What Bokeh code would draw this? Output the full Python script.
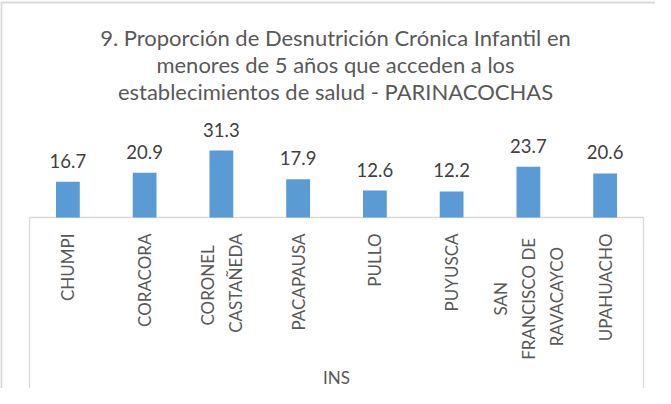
import numpy as np
from bokeh.plotting import figure
from bokeh.models import Range1d, ColumnDataSource
from bokeh.core.properties import value
from bokeh.embed import file_html
from bokeh.resources import INLINE

# ---- data ----
categories = ["CHUMPI", "CORACORA", "CORONEL \nCASTAÑEDA", "PACAPAUSA", "PULLO",
              "PUYUSCA", "SAN \nFRANCISCO DE \nRAVACAYCO", "UPAHUACHO"]
values = [16.7, 20.9, 31.3, 17.9, 12.6, 12.2, 23.7, 20.6]
value_labels = ["16.7", "20.9", "31.3", "17.9", "12.6", "12.2", "23.7", "20.6"]
group_label = "INS"
title_lines = ["9. Proporción de Desnutrición Crónica Infantil en",
               "menores de 5 años que acceden a los",
               "establecimientos de salud - PARINACOCHAS"]

W, H = 655, 388
X0_PX, XPX = 29.0, 76.75          # category axis left edge, px per category
Y0_PX, YPX = 217.0, 2.14          # baseline, px per unit

def xd(px):
    return (px - X0_PX) / XPX

def yd(px):
    return (Y0_PX - px) / YPX

FONT = value("Lato")
n = len(categories)
xs = np.arange(n) + 0.5

p = figure(width=W, height=H, output_backend="svg", toolbar_location=None,
           x_range=Range1d(xd(0), xd(W)), y_range=Range1d(yd(H), yd(0)),
           min_border=0, min_border_left=0, min_border_right=0,
           min_border_top=0, min_border_bottom=0)
p.axis.visible = False
p.grid.visible = False
p.outline_line_color = None
p.background_fill_color = "white"
p.border_fill_color = "white"

grey = "#D9D9D9"
# outer chart border (top and left)
p.segment(x0=[xd(0), xd(0.8)], y0=[yd(2), yd(2)], x1=[xd(W), xd(0.8)], y1=[yd(2), yd(H)],
          line_color=grey, line_width=2)

# category axis box
p.segment(x0=[0, 0, n], y0=[0, 0, 0], x1=[n, 0, n], y1=[0, yd(H), yd(H)],
          line_color=grey, line_width=1.3)

src = ColumnDataSource(dict(x=xs, top=values, lab=value_labels,
                            ly=np.array(values) + 21 / YPX, cat=categories))

p.vbar(x="x", top="top", bottom=0, width=0.31, source=src,
       fill_color="#5B9BD5", line_color=None)

p.text(x="x", y="ly", text="lab", source=src, text_font=FONT,
       text_font_size="18.5px", text_color="#404040",
       text_align="center", text_baseline="alphabetic")

# rotated category labels
p.text(x="x", y=yd(233), text="cat", source=src, text_font=FONT,
       text_font_size="17px", text_color="#595959", angle=np.pi / 2,
       anchor="center_right", text_align="center", text_baseline="middle",
       text_line_height=1.35)

# group label
p.text(x=[n / 2], y=[yd(377)], text=[group_label], text_font=FONT,
       text_font_size="17px", text_color="#595959",
       text_align="center", text_baseline="middle")

# title
p.text(x=[xd(335)] * 3, y=[yd(37), yd(64), yd(91)], text=title_lines,
       text_font=FONT, text_font_size="22px", text_color="#595959",
       text_align="center", text_baseline="middle")

open("out.html", "w").write(file_html(p, INLINE))
